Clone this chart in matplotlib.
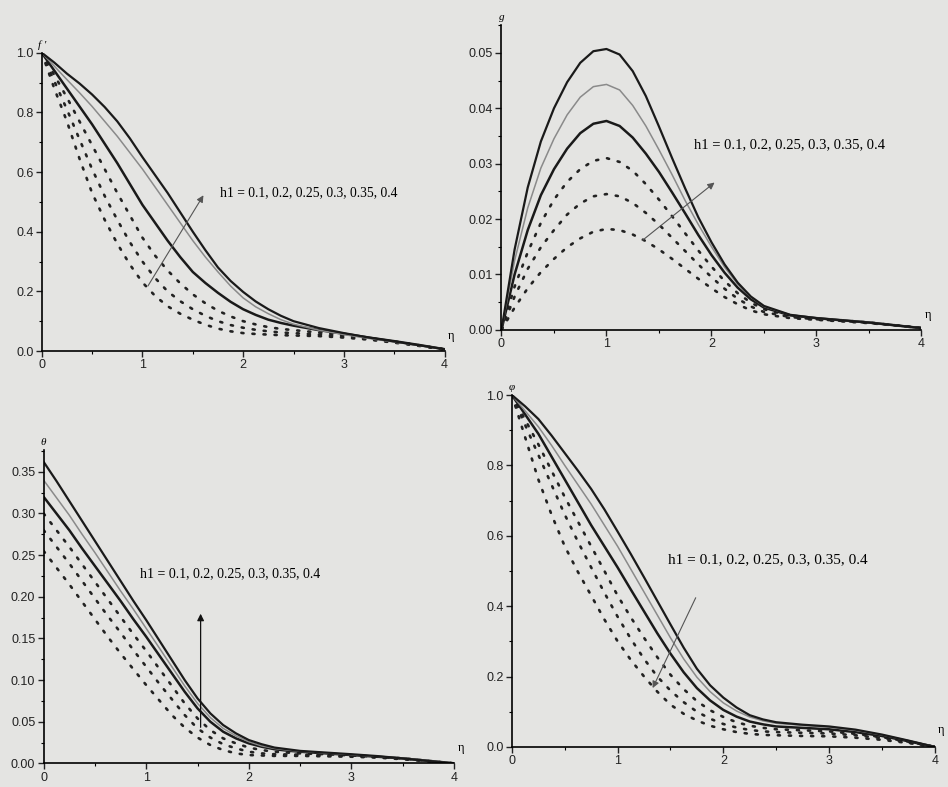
import matplotlib.pyplot as plt
from matplotlib.ticker import MultipleLocator

# shared abscissa (finer where the curves bend)
eta = [0.0, 0.125, 0.25, 0.375, 0.5, 0.625, 0.75, 0.875, 1.0, 1.125, 1.25, 1.375, 1.5, 1.625,
       1.75, 1.875, 2.0, 2.125, 2.25, 2.375, 2.5, 2.75, 3.0, 3.25, 3.5, 3.75, 4.0]
h1_values = [0.1, 0.2, 0.25, 0.3, 0.35, 0.4]
h1_text = "h1 = 0.1, 0.2, 0.25, 0.3, 0.35, 0.4"

# f' profiles, one list per h1 value (low -> high)
fp_01 = [1.0, 0.88, 0.77, 0.645, 0.53, 0.44, 0.36, 0.29, 0.23, 0.185, 0.15, 0.125, 0.105, 0.088,
         0.075, 0.066, 0.06, 0.057, 0.055, 0.053, 0.052, 0.05, 0.045, 0.038, 0.028, 0.017, 0.005]
fp_02 = [1.0, 0.905, 0.81, 0.71, 0.61, 0.52, 0.44, 0.365, 0.30, 0.245, 0.20, 0.167, 0.14, 0.118,
         0.10, 0.087, 0.078, 0.071, 0.066, 0.062, 0.06, 0.055, 0.05, 0.04, 0.03, 0.018, 0.005]
fp_025 = [1.0, 0.925, 0.85, 0.77, 0.69, 0.61, 0.53, 0.455, 0.38, 0.32, 0.27, 0.227, 0.19, 0.16,
          0.135, 0.116, 0.10, 0.089, 0.08, 0.074, 0.07, 0.062, 0.055, 0.043, 0.032, 0.019, 0.005]
fp_03 = [1.0, 0.94, 0.88, 0.82, 0.76, 0.695, 0.63, 0.56, 0.49, 0.43, 0.37, 0.315, 0.265, 0.228,
         0.195, 0.165, 0.14, 0.121, 0.105, 0.094, 0.085, 0.07, 0.058, 0.045, 0.033, 0.02, 0.006]
fp_035 = [1.0, 0.955, 0.91, 0.866, 0.82, 0.77, 0.72, 0.665, 0.61, 0.55, 0.49, 0.43, 0.37, 0.315,
          0.265, 0.218, 0.178, 0.148, 0.125, 0.105, 0.09, 0.07, 0.055, 0.042, 0.03, 0.018, 0.006]
fp_04 = [1.0, 0.967, 0.93, 0.897, 0.86, 0.818, 0.77, 0.713, 0.65, 0.59, 0.53, 0.465, 0.40, 0.338,
         0.28, 0.235, 0.198, 0.166, 0.14, 0.118, 0.10, 0.077, 0.06, 0.045, 0.032, 0.019, 0.006]

# g profiles
g_01 = [0.0, 0.004, 0.0075, 0.0104, 0.0128, 0.0149, 0.0165, 0.0177, 0.0182, 0.018, 0.0172, 0.016, 0.0145, 0.0128,
        0.011, 0.0092, 0.0075, 0.0059, 0.0046, 0.0035, 0.0028, 0.0021, 0.0018, 0.0015, 0.0012, 0.0008, 0.0003]
g_02 = [0.0, 0.006, 0.011, 0.0149, 0.018, 0.0208, 0.0228, 0.0241, 0.0245, 0.0241, 0.0229, 0.0211, 0.019, 0.0166,
        0.0142, 0.0118, 0.0095, 0.0074, 0.0056, 0.0042, 0.0032, 0.0023, 0.0019, 0.0016, 0.0013, 0.0008, 0.0003]
g_025 = [0.0, 0.0078, 0.014, 0.0193, 0.0235, 0.0267, 0.029, 0.0305, 0.031, 0.0303, 0.0287, 0.0263, 0.0235, 0.0205,
         0.0174, 0.0143, 0.0114, 0.0088, 0.0066, 0.0049, 0.0037, 0.0025, 0.002, 0.0017, 0.0013, 0.0008, 0.0003]
g_03 = [0.0, 0.010, 0.018, 0.0243, 0.029, 0.0327, 0.0355, 0.0372, 0.0377, 0.0368, 0.0347, 0.0318, 0.0285, 0.0248,
        0.021, 0.0171, 0.0135, 0.0103, 0.0076, 0.0055, 0.004, 0.0026, 0.0021, 0.0017, 0.0013, 0.0008, 0.0003]
g_035 = [0.0, 0.0125, 0.022, 0.0292, 0.0345, 0.0388, 0.042, 0.0439, 0.0443, 0.0433, 0.0405, 0.0368, 0.0325, 0.028,
         0.0233, 0.019, 0.015, 0.0113, 0.0082, 0.0059, 0.0042, 0.0027, 0.0021, 0.0017, 0.0013, 0.0008, 0.0003]
g_04 = [0.0, 0.0145, 0.0257, 0.034, 0.040, 0.0447, 0.0482, 0.0503, 0.0507, 0.0497, 0.0467, 0.0422, 0.0367, 0.031,
        0.0255, 0.0203, 0.0158, 0.0118, 0.0085, 0.006, 0.0043, 0.0027, 0.0021, 0.0017, 0.0013, 0.0008, 0.0003]

# theta profiles
th_01 = [0.255, 0.235, 0.215, 0.194, 0.173, 0.152, 0.132, 0.113, 0.094, 0.076, 0.058, 0.043, 0.031, 0.022,
         0.016, 0.012, 0.01, 0.0095, 0.009, 0.009, 0.009, 0.0085, 0.008, 0.007, 0.005, 0.0025, 0.0]
th_02 = [0.28, 0.26, 0.24, 0.219, 0.198, 0.177, 0.157, 0.136, 0.116, 0.096, 0.077, 0.058, 0.042, 0.031,
         0.023, 0.018, 0.014, 0.012, 0.011, 0.0107, 0.0105, 0.0098, 0.009, 0.0075, 0.0055, 0.0028, 0.0]
th_025 = [0.30, 0.28, 0.26, 0.239, 0.218, 0.197, 0.176, 0.155, 0.135, 0.114, 0.093, 0.072, 0.054, 0.04,
          0.03, 0.024, 0.019, 0.016, 0.014, 0.013, 0.012, 0.011, 0.0095, 0.008, 0.006, 0.003, 0.0]
th_03 = [0.32, 0.30, 0.28, 0.258, 0.237, 0.216, 0.195, 0.173, 0.152, 0.13, 0.108, 0.086, 0.066, 0.05,
         0.038, 0.03, 0.024, 0.02, 0.017, 0.0153, 0.014, 0.012, 0.01, 0.008, 0.006, 0.003, 0.0]
th_035 = [0.34, 0.319, 0.298, 0.275, 0.253, 0.23, 0.207, 0.185, 0.162, 0.139, 0.116, 0.093, 0.072, 0.055,
          0.042, 0.033, 0.026, 0.021, 0.018, 0.016, 0.0145, 0.0125, 0.0105, 0.0085, 0.0062, 0.0032, 0.0]
th_04 = [0.362, 0.339, 0.315, 0.291, 0.267, 0.243, 0.219, 0.195, 0.172, 0.148, 0.124, 0.10, 0.078, 0.06,
         0.046, 0.036, 0.028, 0.023, 0.019, 0.017, 0.015, 0.013, 0.011, 0.0088, 0.006, 0.003, 0.0]

# phi profiles
ph_01 = [1.0, 0.88, 0.76, 0.66, 0.57, 0.497, 0.43, 0.362, 0.30, 0.247, 0.20, 0.157, 0.12, 0.094,
         0.075, 0.06, 0.05, 0.042, 0.037, 0.034, 0.033, 0.031, 0.03, 0.026, 0.02, 0.011, 0.0]
ph_02 = [1.0, 0.915, 0.83, 0.745, 0.66, 0.583, 0.51, 0.438, 0.37, 0.307, 0.25, 0.20, 0.16, 0.127,
         0.10, 0.08, 0.065, 0.055, 0.048, 0.044, 0.042, 0.04, 0.038, 0.033, 0.025, 0.013, 0.0]
ph_025 = [1.0, 0.93, 0.86, 0.785, 0.71, 0.64, 0.57, 0.50, 0.43, 0.368, 0.31, 0.255, 0.205, 0.164,
          0.13, 0.104, 0.085, 0.07, 0.06, 0.054, 0.05, 0.047, 0.044, 0.037, 0.028, 0.015, 0.0]
ph_03 = [1.0, 0.945, 0.89, 0.825, 0.76, 0.695, 0.63, 0.57, 0.51, 0.447, 0.385, 0.323, 0.265, 0.212,
         0.167, 0.132, 0.105, 0.086, 0.072, 0.064, 0.058, 0.054, 0.05, 0.042, 0.031, 0.016, 0.0]
ph_035 = [1.0, 0.955, 0.91, 0.857, 0.80, 0.745, 0.69, 0.63, 0.57, 0.505, 0.44, 0.375, 0.31, 0.25,
          0.198, 0.157, 0.125, 0.102, 0.085, 0.074, 0.067, 0.061, 0.056, 0.047, 0.034, 0.018, 0.0]
ph_04 = [1.0, 0.968, 0.932, 0.885, 0.835, 0.785, 0.733, 0.675, 0.612, 0.548, 0.482, 0.415, 0.348, 0.282,
         0.222, 0.175, 0.14, 0.112, 0.09, 0.078, 0.07, 0.063, 0.058, 0.049, 0.035, 0.018, 0.0]

BG = '#e4e4e2'
plt.rcParams['font.family'] = ['Liberation Sans', 'DejaVu Sans']
serif = ['Liberation Serif', 'DejaVu Serif']

fig = plt.figure(figsize=(9.48, 7.87), dpi=100, facecolor=BG)

# line styles for h1 = 0.1 .. 0.4
dots = (0, (0.8, 3.4))
styles = [
    dict(color='#222222', lw=1.9, ls=dots),
    dict(color='#222222', lw=1.9, ls=dots),
    dict(color='#222222', lw=1.9, ls=dots),
    dict(color='#1a1a1a', lw=1.8, ls='-'),
    dict(color='#8a8a8a', lw=1.1, ls='-'),
    dict(color='#1a1a1a', lw=1.6, ls='-'),
]

panels = [
    # rect, series, ylim, major, minor, ylabel, fmt
    ([0.044, 0.554, 0.425, 0.379], [fp_01, fp_02, fp_025, fp_03, fp_035, fp_04], (0, 1.0), 0.2, 0.1, "f '", '%.1f'),
    ([0.529, 0.581, 0.443, 0.387], [g_01, g_02, g_025, g_03, g_035, g_04], (0, 0.055), 0.01, 0.005, 'g', '%.2f'),
    ([0.046, 0.030, 0.433, 0.398], [th_01, th_02, th_025, th_03, th_035, th_04], (0, 0.376), 0.05, 0.025, 'θ', '%.2f'),
    ([0.540, 0.051, 0.446, 0.447], [ph_01, ph_02, ph_025, ph_03, ph_035, ph_04], (0, 1.0), 0.2, 0.1, 'φ', '%.1f'),
]

axes = []
for rect, series, ylim, major, minor, ylab, fmt in panels:
    ax = fig.add_axes(rect)
    ax.set_facecolor('none')
    for ys, st in zip(series, styles):
        ax.plot(eta, ys, solid_capstyle='round', dash_capstyle='round', solid_joinstyle='round', **st)
    ax.set_xlim(0, 4)
    ax.set_ylim(*ylim)
    ax.spines['top'].set_visible(False)
    ax.spines['right'].set_visible(False)
    ax.spines['left'].set_linewidth(1.2)
    ax.spines['bottom'].set_linewidth(1.2)
    ax.xaxis.set_major_locator(MultipleLocator(1))
    ax.xaxis.set_minor_locator(MultipleLocator(0.5))
    ax.yaxis.set_major_locator(MultipleLocator(major))
    ax.yaxis.set_minor_locator(MultipleLocator(minor))
    ax.yaxis.set_major_formatter(plt.FormatStrFormatter(fmt))
    ax.tick_params(which='major', length=4, width=1, labelsize=9, colors='#222222', pad=2)
    ax.tick_params(which='minor', length=2, width=0.8)
    ax.text(0, 1.01, ylab, transform=ax.transAxes, fontsize=8, style='italic',
            family=serif, ha='center', va='bottom')
    ax.text(1.008, 0.03, 'η', transform=ax.transAxes, fontsize=9, family=serif,
            ha='left', va='bottom')
    axes.append(ax)

ax1, ax2, ax3, ax4 = axes
ax1.annotate('', xy=(1.62, 0.53), xytext=(1.04, 0.21),
             arrowprops=dict(arrowstyle='-|>', color='#555555', lw=0.8, mutation_scale=10))
ax1.text(1.77, 0.53, h1_text, fontsize=9.8, family=serif, va='center', ha='left')

ax2.annotate('', xy=(2.05, 0.0269), xytext=(1.32, 0.0158),
             arrowprops=dict(arrowstyle='-|>', color='#555555', lw=0.8, mutation_scale=10))
ax2.text(1.83, 0.0334, h1_text, fontsize=10.5, family=serif, va='center', ha='left')

ax3.annotate('', xy=(1.53, 0.183), xytext=(1.53, 0.04),
             arrowprops=dict(arrowstyle='-|>', color='#111111', lw=0.9, mutation_scale=10))
ax3.text(0.94, 0.228, h1_text, fontsize=10, family=serif, va='center', ha='left')

ax4.annotate('', xy=(1.32, 0.16), xytext=(1.75, 0.431),
             arrowprops=dict(arrowstyle='-|>', color='#555555', lw=0.8, mutation_scale=10))
ax4.text(1.48, 0.533, h1_text, fontsize=11, family=serif, va='center', ha='left')

fig.savefig('out.png', dpi=100, facecolor=BG)
